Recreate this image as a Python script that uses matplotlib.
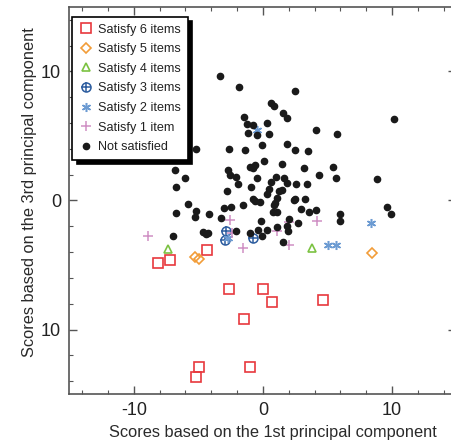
import matplotlib
matplotlib.use("Agg")
import matplotlib.pyplot as plt

plt.rcParams['font.family'] = ['Liberation Sans', 'DejaVu Sans']

# Satisfy 6 items
x6 = [-8.11, -7.16, -4.31, -2.66, 0.03, 0.72, 4.68, -1.44, -4.94, -1.01, -5.17]
y6 = [-4.82, -4.59, -3.84, -6.85, -6.85, -7.89, -7.70, -9.21, -12.89, -12.94, -13.72]
# Satisfy 5 items
x5 = [-5.27, -4.94, 8.42]
y5 = [-4.38, -4.51, -4.05]
# Satisfy 4 items
x4 = [-7.39, 3.78]
y4 = [-3.76, -3.71]
# Satisfy 3 items
x3 = [-2.89, -2.92, -0.80]
y3 = [-2.39, -3.09, -2.93]
# Satisfy 2 items
x2 = [-0.49, -2.69, 8.37, 5.01, 5.63]
y2 = [5.47, -2.90, -1.76, -3.45, -3.45]
# Satisfy 1 item
x1 = [-8.94, -2.53, -2.40, -1.57, 1.06, 2.04, 2.04, 4.16]
y1 = [-2.72, -1.53, -2.52, -3.66, -2.33, -1.69, -3.42, -1.58]
# Not satisfied
x0 = [-3.33, -1.86, 2.51, 0.62, 0.83, 1.58, 1.89, -1.47, -1.27, -0.80, 0.28, -1.19,
      -0.47, 0.44, 4.11, 5.71, 10.16, -5.19, -2.61, -1.42, -0.05, 1.86, 2.48, 3.49,
      -6.82, -6.07, -6.77, -2.69, -2.53, -2.09, -1.96, -2.82, -0.98, -0.62, -0.75,
      0.10, 1.47, 3.20, 5.45, 4.34, 5.66, 8.84, -0.49, 1.01, 1.60, 0.59, 1.84, 2.58,
      3.41, -0.93, 0.44, 1.21, 1.45, 0.28, 1.11, -0.80, -0.59, -0.26, 2.38, 2.51,
      3.28, -5.81, -1.55, -3.05, -2.46, 0.88, 0.95, 2.95, 4.08, 9.59, 9.90, -6.77,
      -5.19, -5.27, -4.16, -3.28, 0.80, 1.06, 3.59, 5.99, 5.97, -0.16, 2.04, 2.74,
      1.84, 1.06, 0.34, 1.91, -0.41, -2.07, -4.63, -4.42, -4.24, -0.98, -0.08, -7.00,
      1.53]
y0 = [9.63, 8.79, 8.48, 7.57, 7.34, 6.80, 6.43, 6.51, 5.94, 5.84, 5.99, 5.21,
      5.11, 5.16, 5.50, 5.14, 6.35, 3.99, 3.99, 3.92, 4.28, 4.41, 3.94, 3.87,
      2.36, 1.71, 1.01, 2.39, 1.97, 1.79, 1.27, 0.73, 2.62, 2.72, 2.51,
      3.03, 2.83, 2.49, 2.59, 2.00, 1.74, 1.66, 1.74, 1.79, 1.74, 1.40, 1.37, 1.27,
      1.25, 1.04, 0.91, 0.73, 0.83, 0.52, 0.23, 0.08, -0.03, -0.08, 0.05, 0.13,
      0.08, -0.29, -0.34, -0.57, -0.52, -0.36, -0.18, -0.65, -0.73, -0.52, -1.01, -0.96,
      -0.83, -1.27, -1.07, -1.38, -0.88, -0.88, -0.93, -1.07, -1.61, -1.58, -1.40, -1.76,
      -1.95, -2.08, -2.31, -2.33, -2.28, -2.39, -2.44, -2.59, -2.52, -2.52, -2.78, -2.78,
      -3.21]

ticks = [-10, 0, 10]
xtick_labels = ['-10', '0', '10']
ytick_labels = ['10', '0', '10']

fig = plt.figure(figsize=(4.52, 4.44), dpi=100)
ax = fig.add_axes([69.3 / 452, 50 / 444, 387.2 / 452, 387 / 444])

red = '#e8383d'
orange = '#f29c38'
green = '#7cc242'
dblue = '#2b5b9e'
lblue = '#6c9bd2'
pink = '#cf8fc4'

h6, = ax.plot(x6, y6, 's', ms=6.5, mfc='none', mec=red, mew=1.2, ls='none')
h5, = ax.plot(x5, y5, 'D', ms=5, mfc='none', mec=orange, mew=1.2, ls='none')
h4, = ax.plot(x4, y4, '^', ms=6, mfc='none', mec=green, mew=1.2, ls='none')
h3a, = ax.plot(x3, y3, 'o', ms=6.5, mfc='none', mec=dblue, mew=1.1, ls='none')
h3b, = ax.plot(x3, y3, '+', ms=6.5, mec=dblue, mew=1.1, ls='none')
h2, = ax.plot(x2, y2, marker=(6, 2, 0), ms=6.5, mec=lblue, mew=1.1, ls='none')
h1, = ax.plot(x1, y1, '+', ms=7, mec=pink, mew=1.1, ls='none')
h0, = ax.plot(x0, y0, 'o', ms=4.5, mfc='#1a1a1a', mec='#1a1a1a', ls='none')

ax.set_xlim(-15, 15)
ax.set_ylim(-15, 15)
ax.set_xticks(ticks)
ax.set_xticklabels(xtick_labels)
ax.set_yticks(ticks)
ax.set_yticklabels(ytick_labels)
ax.set_xticks(range(-14, 15, 2), minor=True)
ax.set_yticks(range(-14, 15, 2), minor=True)
ax.tick_params(which='both', direction='in', top=True, right=True, colors='#555555',
               labelcolor='#222222')
ax.tick_params(which='major', length=6, width=1, labelsize=13, pad=6)
ax.tick_params(which='minor', length=3, width=0.8)
for s in ax.spines.values():
    s.set_color('#555555')
    s.set_linewidth(1.2)

ax.set_xlabel('Scores based on the 1st principal component', fontsize=11.8, color='#2a2a2a', labelpad=4)
ax.set_ylabel('Scores based on the 3rd principal component', fontsize=11.8, color='#2a2a2a', labelpad=3)
ax.xaxis.label.set_x(0.526)
ax.yaxis.label.set_y(0.521)

leg = ax.legend([h6, h5, h4, (h3a, h3b), h2, h1, h0],
                ['Satisfy 6 items', 'Satisfy 5 items', 'Satisfy 4 items', 'Satisfy 3 items',
                 'Satisfy 2 items', 'Satisfy 1 item', 'Not satisfied'],
                loc='upper left', bbox_to_anchor=(0.008, 0.975), fontsize=9.1,
                frameon=True, fancybox=False, framealpha=1, edgecolor='black',
                handlelength=1.0, handletextpad=0.45, borderpad=0.55, labelspacing=0.6,
                borderaxespad=0, shadow={'color': 'black', 'alpha': 1, 'ox': 3, 'oy': -3})
leg.get_frame().set_linewidth(1.2)
for t in leg.get_texts():
    t.set_color('#222222')

fig.savefig('out.png', dpi=100)
